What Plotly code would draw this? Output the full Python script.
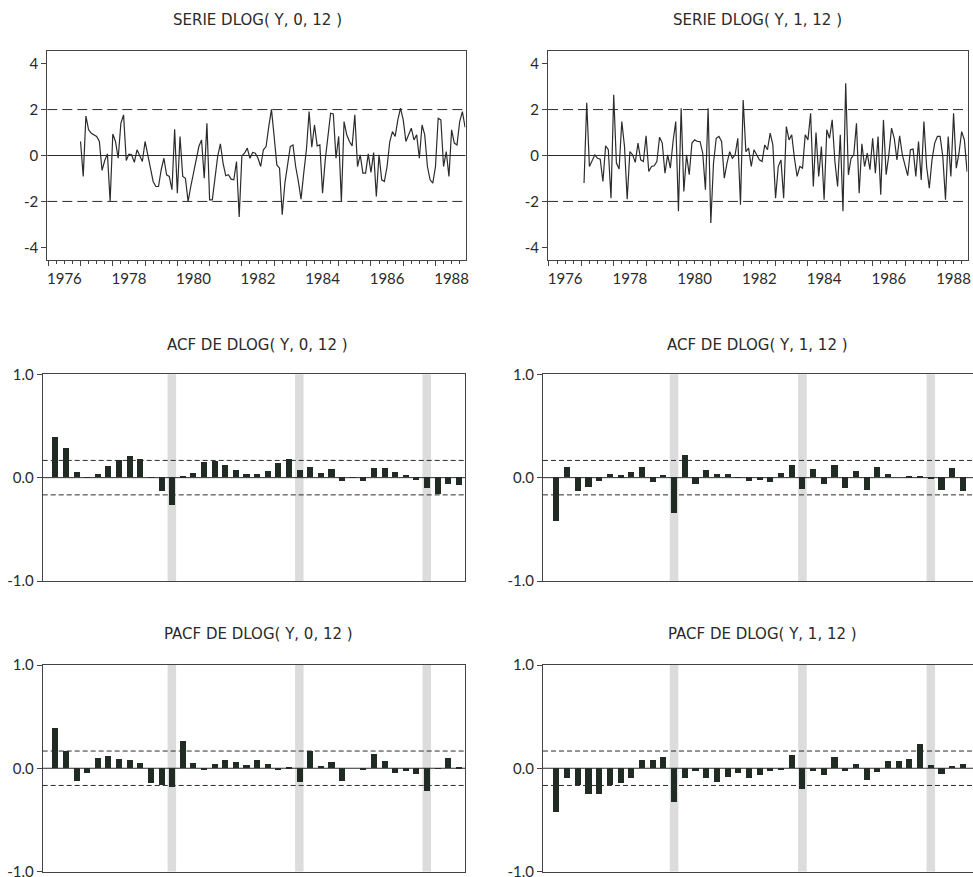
import plotly.graph_objects as go

# positions below are given in window pixels (the page margin is removed after plotting);
# the figure is a little wider than the window so the right-hand panels run off its edge
OFF = 0
W, H = 980, 877

# ---------------- data ----------------
# monthly series, DLOG(Y,0,12) starts 1977M01, DLOG(Y,1,12) starts 1977M02
series1_start = 1977 + 0 / 12
series1 = [0.61, -0.91, 1.72, 1.12, 0.97, 0.90, 0.83, 0.61, -0.65, -0.22, 0.07, -2.00,
           0.94, 0.61, -0.12, 1.40, 1.77, -0.22, 0.06, 0.03, -0.30, 0.25, -0.04, -0.26,
           0.61, -0.04, -0.55, -1.13, -1.35, -1.35, -0.62, -0.12, -0.84, -0.91, -1.49, 1.14,
           -1.64, 0.83, -0.91, -0.99, -2.00, -1.35, -0.77, -0.19, 0.39, 0.68, -0.99, 1.40,
           -1.93, -1.93, -1.06, -0.04, 0.51, -0.33, -0.88, -0.84, -1.03, -1.06, -0.26, -2.68,
           -0.01, 0.10, 0.32, -0.12, 0.13, 0.10, -0.12, -0.48, 0.25, 0.39, 1.26, 2.01,
           0.83, -0.41, -0.55, -2.58, -1.20, -0.48, 0.39, 0.46, -0.48, -1.13, -1.90, -0.77,
           0.25, 1.91, 0.36, 1.33, 0.42, 0.46, -1.64, -0.19, 0.83, 1.84, 1.81, -0.12,
           0.83, -2.00, 1.48, 0.90, 0.61, 0.42, 1.77, -0.48, 0.03, -0.77, -0.77, 0.07,
           -0.74, 0.13, -1.78, 0.03, -1.06, -1.13, -0.48, 0.61, 1.04, 0.83, 1.55, 2.06,
           1.55, 0.61, 0.90, 1.19, 0.68, 0.90, -0.12, 1.33, 0.90, -0.48, -1.06, -1.20,
           -0.48, 1.62, 1.55, -0.48, 0.17, -0.91, 1.12, 0.54, 0.46, 1.48, 1.91, 1.23]
series2_start = 1977 + 1 / 12
series2 = [-1.20, 2.30, -0.48, -0.19, 0.03, -0.12, -0.16, -1.13, 0.42, 0.25, -1.86,
           2.64, -0.33, -0.59, 1.48, 0.39, -1.90, 0.17, 0.03, -0.30, 0.54, -0.19, -0.26,
           0.86, -0.70, -0.48, -0.45, -0.26, 0.80, 0.54, -0.77, 0.03, -0.55, 0.61, 1.48,
           -2.43, 2.06, -1.57, 0.03, -0.84, 0.54, 0.68, 0.61, 0.61, 0.10, -1.49, 2.06,
           -2.94, -0.33, 0.75, 0.83, 0.61, -0.99, -0.33, 0.17, -0.12, 0.03, 0.75, -2.14,
           2.42, 0.17, 0.32, -0.48, 0.25, 0.03, -0.19, -0.26, 0.46, 0.25, 0.97, 0.46,
           -1.86, -0.48, -0.19, -1.86, 1.26, 0.68, 0.90, -0.12, -0.91, -0.48, -0.55, 0.90,
           0.68, 1.84, -1.35, 1.00, -0.91, 0.39, -1.93, 1.12, 0.75, 1.55, -0.26, -1.35,
           0.90, -2.43, 3.14, -0.84, -0.12, 0.03, 1.40, -1.64, 0.51, -0.48, 0.10, -0.62,
           0.75, -0.77, 0.83, -1.71, 1.55, -0.84, 0.03, 1.19, 0.75, -0.19, 0.86, 0.03,
           -0.41, -0.88, 0.25, 0.28, -0.91, 0.61, -1.06, 1.48, -0.48, -1.42, -0.19, 0.54,
           0.83, 0.83, -0.04, -1.93, 0.83, -0.91, 1.84, -0.55, 0.10, 1.04, 0.68, -0.70]

lags = list(range(1, 40))
acf1 = [0.39, 0.284, 0.055, -0.006, 0.035, 0.113, 0.171, 0.203, 0.174, -0.003,
        -0.129, -0.265, 0.016, 0.039, 0.148, 0.158, 0.116, 0.071, 0.032, 0.035,
        0.058, 0.139, 0.177, 0.071, 0.097, 0.042, 0.081, -0.032, 0.003, -0.035,
        0.087, 0.087, 0.048, 0.023, -0.029, -0.106, -0.161, -0.065, -0.071]
acf2 = [-0.419, 0.097, -0.132, -0.094, -0.032, 0.035, 0.019, 0.055, 0.103, -0.045,
        0.023, -0.342, 0.213, -0.068, 0.068, 0.029, 0.029, -0.006, -0.039, -0.026,
        -0.048, 0.039, 0.119, -0.116, 0.077, -0.065, 0.119, -0.106, 0.065, -0.123,
        0.097, 0.035, 0.0, 0.005, 0.01, -0.02, -0.12, 0.09, -0.13]
pacf1 = [0.39, 0.165, -0.126, -0.048, 0.097, 0.119, 0.087, 0.084, 0.052, -0.139,
         -0.161, -0.177, 0.265, 0.055, -0.01, 0.045, 0.081, 0.061, 0.035, 0.077,
         0.042, -0.016, 0.006, -0.132, 0.165, 0.023, 0.065, -0.126, 0.0, -0.016,
         0.135, 0.071, -0.042, -0.026, -0.058, -0.223, -0.003, 0.10, 0.01]
pacf2 = [-0.42, -0.094, -0.165, -0.249, -0.249, -0.165, -0.146, -0.091, 0.078, 0.078,
         0.113, -0.324, -0.091, -0.023, -0.097, -0.136, -0.084, -0.042, -0.091, -0.065,
         -0.023, -0.016, 0.126, -0.204, -0.023, -0.068, 0.107, -0.026, 0.039, -0.11,
         -0.036, 0.071, 0.071, 0.087, 0.236, 0.032, -0.052, 0.026, 0.042]

year_labels = [1976, 1978, 1980, 1982, 1984, 1986, 1988]
year_ticks = list(range(1976, 1989))
seasonal_lags = [12, 24, 36]
n_obs = 144
titles = ["SERIE DLOG( Y, 0, 12 )", "SERIE DLOG( Y, 1, 12 )",
          "ACF DE DLOG( Y, 0, 12 )", "ACF DE DLOG( Y, 1, 12 )",
          "PACF DE DLOG( Y, 0, 12 )", "PACF DE DLOG( Y, 1, 12 )"]

# ---------------- styling ----------------
FRAME = "#444444"
LINE = "#2c2c2c"
BAR = "#1f2b23"
BAND = "#dcdcdc"
TICKFONT = dict(family="Lato, Open Sans, sans-serif", size=15, color="#2a2a2a")
TITLEFONT = dict(family="DejaVu Sans, Verdana, sans-serif", size=15, color="#2a2a2a")


def dx(a, b):
    """window pixels -> figure x domain"""
    return [max((a - OFF) / W, 0.0), min((b - OFF) / W, 1.0)]


def dy(top, bottom):
    """window pixels -> figure y domain"""
    return [max(1 - (bottom - OFF) / H, 0.0), min(1 - (top - OFF) / H, 1.0)]


panels = {
    1: dict(x=dx(47.3, 465.5), y=dy(51, 260)),
    2: dict(x=dx(548.0, 967.5), y=dy(51, 260)),
    3: dict(x=dx(42.7, 465.0), y=dy(374.3, 581)),
    4: dict(x=dx(543.0, 978.0), y=dy(374.3, 581)),
    5: dict(x=dx(42.7, 465.0), y=dy(665, 871.5)),
    6: dict(x=dx(543.0, 978.0), y=dy(665, 871.5)),
}

fig = go.Figure()


def months(start, n):
    return [start + i / 12 for i in range(n)]


fig.add_trace(go.Scatter(x=months(series1_start, len(series1)), y=series1, mode="lines",
                         line=dict(color=LINE, width=1.2), xaxis="x", yaxis="y",
                         showlegend=False))
fig.add_trace(go.Scatter(x=months(series2_start, len(series2)), y=series2, mode="lines",
                         line=dict(color=LINE, width=1.2), xaxis="x2", yaxis="y2",
                         showlegend=False))
for k, vals in zip([3, 4, 5, 6], [acf1, acf2, pacf1, pacf2]):
    fig.add_trace(go.Bar(x=lags, y=vals, width=0.57, marker=dict(color=BAR, line=dict(width=0)),
                         xaxis=f"x{k}", yaxis=f"y{k}", showlegend=False))

layout = dict(width=W, height=H, margin=dict(l=0, r=0, t=0, b=0, autoexpand=False),
              paper_bgcolor="white", plot_bgcolor="white", bargap=0, template="none")

ser_range = [1975.97, 1988.93]
acfL_range = [-0.16, 39.6]
acfR_range = [-0.25, 40.41]

for k in range(1, 7):
    xs = "xaxis" if k == 1 else f"xaxis{k}"
    ys = "yaxis" if k == 1 else f"yaxis{k}"
    xa = dict(domain=panels[k]["x"], anchor="y" if k == 1 else f"y{k}", automargin=False,
              showline=True, mirror=True, linecolor=FRAME, linewidth=1,
              showgrid=False, zeroline=False, fixedrange=True)
    ya = dict(domain=panels[k]["y"], anchor="x" if k == 1 else f"x{k}", automargin=False,
              showline=True, mirror=True, linecolor=FRAME, linewidth=1,
              showgrid=False, zeroline=False, ticks="outside", ticklen=5,
              tickcolor=FRAME, tickfont=TICKFONT, fixedrange=True,
              ticklabeloverflow="allow")
    if k in (1, 2):
        xa.update(range=ser_range, tickmode="array", tickvals=year_ticks,
                  showticklabels=False, ticks="outside", ticklen=5, tickcolor=FRAME,
                  minor=dict(dtick=0.25, tick0=1976, ticks="outside", ticklen=3,
                             tickcolor=FRAME, showgrid=False))
        ya.update(range=[-4.55, 4.55], tickmode="array", tickvals=[-4, -2, 0, 2, 4],
                  ticktext=["-4", "-2", "0", "2", "4"])
    else:
        xa.update(range=acfL_range if k in (3, 5) else acfR_range,
                  showticklabels=False, ticks="")
        ya.update(range=[-1, 1], tickmode="array", tickvals=[-1, 0, 1],
                  ticktext=["-1.0", "0.0", "1.0"])
    layout[xs] = xa
    layout[ys] = ya

# overlay axes carrying the year labels centred on each labelled year
for k, ov in [(1, 7), (2, 8)]:
    layout[f"xaxis{ov}"] = dict(overlaying="x" if k == 1 else f"x{k}",
                                anchor="y" if k == 1 else f"y{k}", side="bottom",
                                range=ser_range, tickmode="array", automargin=False,
                                tickvals=[y + 0.5 for y in year_labels],
                                ticktext=[str(y) for y in year_labels],
                                ticks="outside", ticklen=5, tickcolor="rgba(0,0,0,0)",
                                showline=False, showgrid=False, zeroline=False,
                                tickfont=TICKFONT, fixedrange=True,
                                ticklabeloverflow="allow")

fig.update_layout(**layout)
for k, ov in [(1, 7), (2, 8)]:
    fig.add_trace(go.Scatter(x=[ser_range[0]], y=[0], mode="markers", marker=dict(opacity=0),
                             xaxis=f"x{ov}", yaxis="y" if k == 1 else f"y{k}",
                             showlegend=False, hoverinfo="skip"))

shapes = []
for k in (1, 2):
    yr = "y" if k == 1 else f"y{k}"
    xr = ("x" if k == 1 else f"x{k}") + " domain"
    shapes.append(dict(type="line", xref=xr, yref=yr, x0=0, x1=1, y0=0, y1=0,
                       line=dict(color=LINE, width=1)))
    for lev in (2, -2):
        shapes.append(dict(type="line", xref=xr, yref=yr, x0=0, x1=1, y0=lev, y1=lev,
                           line=dict(color=LINE, width=1, dash="10px,5px")))

conf = 2 / n_obs ** 0.5
for k in (3, 4, 5, 6):
    for s in seasonal_lags:
        shapes.append(dict(type="rect", xref=f"x{k}", yref=f"y{k} domain",
                           x0=s - 0.4, x1=s + 0.4, y0=0, y1=1, fillcolor=BAND,
                           line=dict(width=0), layer="below"))
    shapes.append(dict(type="line", xref=f"x{k} domain", yref=f"y{k}", x0=0, x1=1, y0=0, y1=0,
                       line=dict(color=LINE, width=1)))
    for lev in (conf, -conf):
        shapes.append(dict(type="line", xref=f"x{k} domain", yref=f"y{k}", x0=0, x1=1,
                           y0=lev, y1=lev, line=dict(color=LINE, width=1, dash="5px,3px")))
fig.update_layout(shapes=shapes)

title_pos = [(257, 20), (757, 20), (257, 345), (757, 345), (258, 634), (762, 634)]
for t, (cx, cy) in zip(titles, title_pos):
    fig.add_annotation(text=t, xref="paper", yref="paper", x=(cx - OFF) / W,
                       y=1 - (cy - OFF) / H, xanchor="center", yanchor="middle",
                       showarrow=False, font=TITLEFONT)

fig.write_html("out.html", config={"displayModeBar": False},
               post_script="document.body.style.margin='0px';document.body.style.overflow='hidden';")
